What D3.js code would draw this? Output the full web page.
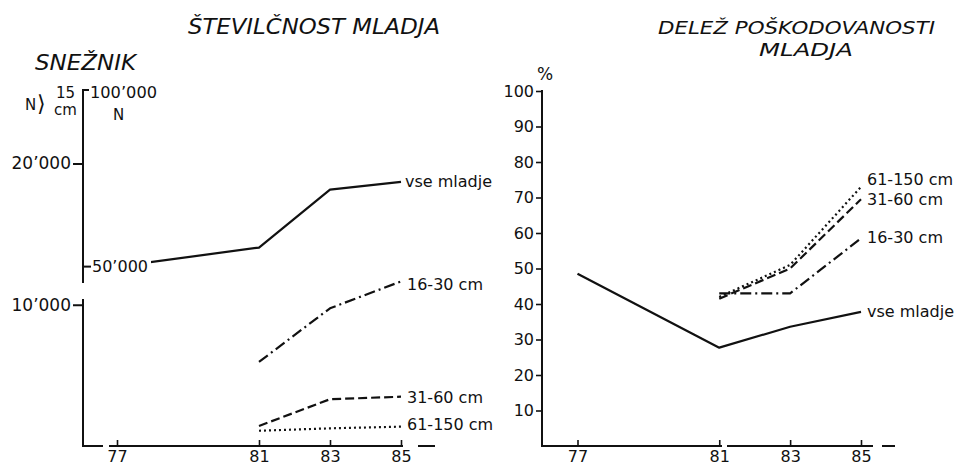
<!DOCTYPE html>
<html><head><meta charset="utf-8">
<script src="https://cdn.jsdelivr.net/npm/d3@7"></script>
<style>
body{margin:0;background:#fff}
text{font-family:"DejaVu Sans",sans-serif;fill:#111}
</style>
</head><body>
<svg id="c" width="959" height="465"></svg>
<script>
// ---- data ----
const years = [77, 81, 83, 85];
const yearLabels = ["77", "81", "83", "85"];
// Left panel: number of young trees (N)
const countAll   = [12700, 14050, 18150, 18700];
const count1630  = [null, 5950, 9750, 11650];
const count3160  = [null, 1420, 3310, 3490];
const count61150 = [null, 1080, 1250, 1370];
const countTicks = [10000, 20000];
const countTickLabels = ["10’000", "20’000"];
// Right panel: share of damaged young trees (%)
const dmgAll   = [48.5, 27.7, 33.6, 37.8];
const dmg1630  = [null, 43, 43, 58.5];
const dmg3160  = [null, 41.5, 50, 69.5];
const dmg61150 = [null, 42, 51, 73];
const pctTicks = [10, 20, 30, 40, 50, 60, 70, 80, 90, 100];
const seriesNames = ["vse mladje", "16-30 cm", "31-60 cm", "61-150 cm"];

const svg = d3.select("#c");
const ink = "#111";

// ---- scales ----
const xL = d3.scaleLinear().domain([77, 85]).range([117, 401]);
const yL = d3.scaleLinear().domain([0, 20000]).range([446, 163.5]);
const xR = d3.scaleLinear().domain([77, 85]).range([577.5, 861]);
const yR = d3.scaleLinear().domain([0, 100]).range([446, 91]);

const dashes = [null, "11,4,2,4", "9,4", "2,3"];

function drawSeries(g, x, y, vals, dash) {
  const pts = years.map((yr, i) => [yr, vals[i]]).filter(d => d[1] != null);
  g.append("path")
    .attr("d", d3.line().x(d => x(d[0])).y(d => y(d[1]))(pts))
    .attr("fill", "none").attr("stroke", ink).attr("stroke-width", 2.2)
    .attr("stroke-dasharray", dash).attr("stroke-linejoin", "round");
}

// ---------------- LEFT PANEL ----------------
const gL = svg.append("g");
svg.append("text").text("ŠTEVILČNOST MLADJA").attr("x", 188).attr("y", 34)
  .attr("font-size", 22).attr("font-style", "italic")
  .attr("textLength", 252).attr("lengthAdjust", "spacingAndGlyphs");
svg.append("text").text("SNEŽNIK").attr("x", 35).attr("y", 70)
  .attr("font-size", 22).attr("font-style", "italic")
  .attr("textLength", 101).attr("lengthAdjust", "spacingAndGlyphs");

// axis unit labels
svg.append("text").text("N").attr("x", 25).attr("y", 110).attr("font-size", 15);
svg.append("text").text("⟩").attr("x", 37).attr("y", 111).attr("font-size", 22);
svg.append("text").text("15").attr("x", 56).attr("y", 98).attr("font-size", 15);
svg.append("text").text("cm").attr("x", 54).attr("y", 115).attr("font-size", 15);
svg.append("text").text("100’000").attr("x", 90).attr("y", 98).attr("font-size", 16)
  .attr("textLength", 67).attr("lengthAdjust", "spacingAndGlyphs");
svg.append("text").text("N").attr("x", 113).attr("y", 120).attr("font-size", 15);

// series
drawSeries(gL, xL, yL, countAll, dashes[0]);
drawSeries(gL, xL, yL, count1630, dashes[1]);
drawSeries(gL, xL, yL, count3160, dashes[2]);
drawSeries(gL, xL, yL, count61150, dashes[3]);

// "50'000" break label on the all-trees line
gL.append("rect").attr("x", 86).attr("y", yL(countAll[0]) - 10).attr("width", 65).attr("height", 20).attr("fill", "#fff");
gL.append("line").attr("x1", 84).attr("x2", 91).attr("y1", yL(countAll[0])).attr("y2", yL(countAll[0]))
  .attr("stroke", ink).attr("stroke-width", 2);
gL.append("text").text("50’000").attr("x", 92).attr("y", yL(countAll[0])).attr("dy", "0.36em")
  .attr("font-size", 16).attr("textLength", 56).attr("lengthAdjust", "spacingAndGlyphs");

// y axis
const axL = gL.append("g").attr("transform", "translate(83,0)")
  .call(d3.axisLeft(yL).tickValues(countTicks).tickSize(10).tickPadding(2)
    .tickFormat((d, i) => countTickLabels[i]));
axL.select(".domain").remove();
axL.selectAll("line").attr("stroke", ink).attr("stroke-width", 2);
axL.selectAll("text").attr("font-size", 17).attr("font-family", "DejaVu Sans").attr("fill", ink);
gL.append("path").attr("d", "M89,90 H83 V283 M83,299 V447")
  .attr("fill", "none").attr("stroke", ink).attr("stroke-width", 2);

// x axis
const axLx = gL.append("g").attr("transform", "translate(0,446)")
  .call(d3.axisBottom(xL).tickValues(years).tickSize(-6).tickPadding(5)
    .tickFormat((d, i) => yearLabels[i]));
axLx.select(".domain").remove();
axLx.selectAll("line").attr("stroke", ink).attr("stroke-width", 1.6);
axLx.selectAll("text").attr("font-size", 16).attr("font-family", "DejaVu Sans").attr("fill", ink);
gL.append("path").attr("d", "M82,446 H103 M109,446 H403 M418,446 H435")
  .attr("fill", "none").attr("stroke", ink).attr("stroke-width", 2);

// series labels
const lx = xL(85) + 4;
[[seriesNames[0], 187], [seriesNames[1], 290], [seriesNames[2], 403], [seriesNames[3], 430]]
  .forEach(([t, yy]) => gL.append("text").text(t).attr("x", lx + (t === "vse mladje" ? 0 : 2)).attr("y", yy).attr("font-size", 16));

// ---------------- RIGHT PANEL ----------------
const gR = svg.append("g");
svg.append("text").text("DELEŽ POŠKODOVANOSTI").attr("x", 658).attr("y", 34)
  .attr("font-size", 18).attr("font-style", "italic")
  .attr("textLength", 277).attr("lengthAdjust", "spacingAndGlyphs");
svg.append("text").text("MLADJA").attr("x", 759).attr("y", 56)
  .attr("font-size", 18).attr("font-style", "italic")
  .attr("textLength", 94).attr("lengthAdjust", "spacingAndGlyphs");
svg.append("text").text("%").attr("x", 537).attr("y", 80).attr("font-size", 17);

drawSeries(gR, xR, yR, dmgAll, dashes[0]);
drawSeries(gR, xR, yR, dmg1630, dashes[1]);
drawSeries(gR, xR, yR, dmg3160, dashes[2]);
drawSeries(gR, xR, yR, dmg61150, dashes[3]);

const axR = gR.append("g").attr("transform", "translate(542,0)")
  .call(d3.axisLeft(yR).tickValues(pctTicks).tickSize(6).tickPadding(2));
axR.select(".domain").remove();
axR.selectAll("line").attr("stroke", ink).attr("stroke-width", 1.6);
axR.selectAll("text").attr("font-size", 16).attr("font-family", "DejaVu Sans").attr("fill", ink);
gR.append("path").attr("d", "M542,90 V447").attr("fill", "none").attr("stroke", ink).attr("stroke-width", 2);

const axRx = gR.append("g").attr("transform", "translate(0,446)")
  .call(d3.axisBottom(xR).tickValues(years).tickSize(-6).tickPadding(5)
    .tickFormat((d, i) => yearLabels[i]));
axRx.select(".domain").remove();
axRx.selectAll("line").attr("stroke", ink).attr("stroke-width", 1.6);
axRx.selectAll("text").attr("font-size", 16).attr("font-family", "DejaVu Sans").attr("fill", ink);
gR.append("path").attr("d", "M541,446 H722 M727,446 H873 M882,446 H895")
  .attr("fill", "none").attr("stroke", ink).attr("stroke-width", 2);

const rx = xR(85) + 4;
[[seriesNames[3], 185], [seriesNames[2], 205], [seriesNames[1], 243], [seriesNames[0], 317]]
  .forEach(([t, yy]) => gR.append("text").text(t).attr("x", rx + 2).attr("y", yy).attr("font-size", 16));
</script>
</body></html>
